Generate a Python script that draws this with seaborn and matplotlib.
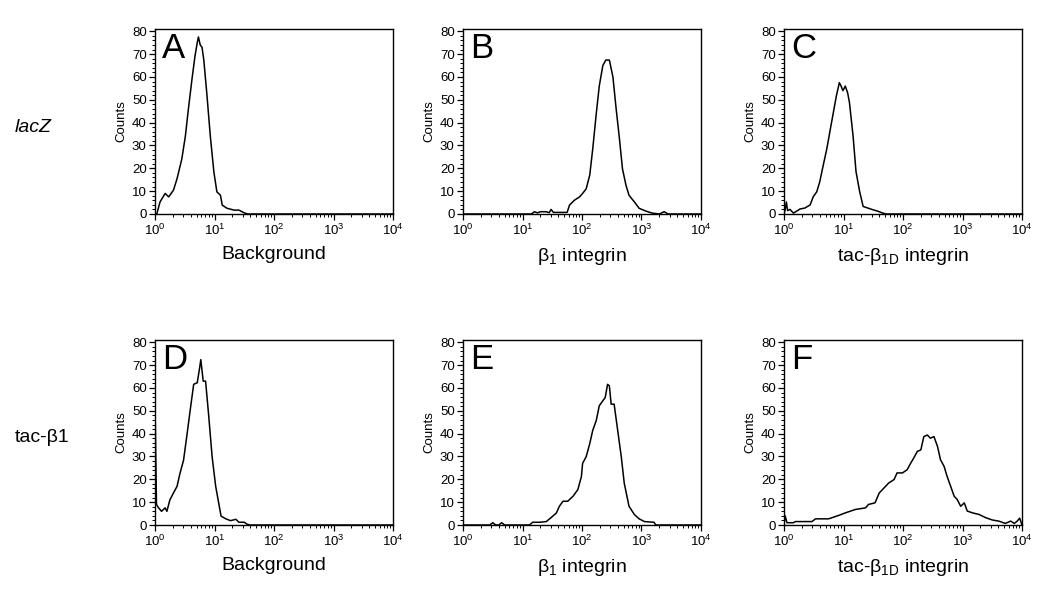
import numpy as np
import pandas as pd
import seaborn as sns
import matplotlib.pyplot as plt
from matplotlib.ticker import MultipleLocator, LogLocator, LogFormatterSciNotation, NullFormatter

# histogram traces: position in decades (log10 of intensity) and counts
a_dec = [0.0, 0.03, 0.085, 0.17, 0.23, 0.31, 0.37, 0.45, 0.51, 0.56, 0.62, 0.67, 0.71, 0.73, 0.76,
         0.79, 0.82, 0.87, 0.93, 0.99, 1.04, 1.10, 1.13, 1.21, 1.33, 1.41, 1.50, 1.56, 4.0]
a_cnt = [0, 0, 5.3, 9, 7.5, 10.4, 15.4, 24, 34, 45.7, 58.7, 68.8, 75, 77.5, 74,
         73, 67.5, 53, 34, 18.3, 9.7, 8.2, 3.9, 2.5, 1.7, 1.7, 0.5, 0, 0]

b_dec = [0.0, 1.15, 1.2, 1.25, 1.3, 1.4, 1.45, 1.48, 1.52, 1.75, 1.79, 1.87, 1.96, 2.01, 2.07, 2.13,
         2.18, 2.24, 2.29, 2.35, 2.40, 2.46, 2.52, 2.57, 2.63, 2.68, 2.74, 2.79, 2.88, 2.96,
         3.07, 3.18, 3.3, 3.38, 3.45, 4.0]
b_cnt = [0, 0, 1, 0.5, 1, 1, 0.6, 2, 0.7, 0.7, 3.9, 6, 7.5, 9, 11, 17,
         28.4, 44, 56, 65, 67.4, 67.4, 60, 47, 32.8, 19.8, 12.5, 8.2, 5.3, 2.5,
         1.3, 0.4, 0, 1, 0, 0]

c_dec = [0.0, 0.02, 0.04, 0.06, 0.10, 0.16, 0.21, 0.27, 0.35, 0.44, 0.49, 0.55, 0.60, 0.66, 0.72,
         0.77, 0.83, 0.88, 0.93, 0.96, 0.99, 1.03, 1.07, 1.10, 1.16, 1.21, 1.27, 1.33, 1.41,
         1.49, 1.58, 1.66, 1.72, 4.0]
c_cnt = [0, 2, 5.3, 1.5, 2, 0.4, 1.2, 2.2, 2.6, 4, 7.5, 9.7, 14, 21.4, 28.6,
         35.9, 44.5, 51.7, 57.5, 56, 54, 56, 53, 48.8, 34.4, 18.6, 10, 3.3, 2.6,
         1.9, 1.2, 0.4, 0, 0]

d_dec = [0.0, 0.012, 0.025, 0.06, 0.11, 0.17, 0.20, 0.25, 0.31, 0.37, 0.42, 0.48, 0.54, 0.59,
         0.65, 0.71, 0.75, 0.77, 0.81, 0.85, 0.90, 0.96, 1.02, 1.07, 1.11, 1.19, 1.27, 1.36,
         1.41, 1.50, 1.55, 1.6, 4.0]
d_cnt = [55, 31, 9, 7.5, 6, 7.5, 6, 11, 14, 16.9, 22.6, 28.4, 40, 50,
         61.6, 62.3, 68.8, 72.4, 63, 63, 48.6, 29.9, 16.9, 9.7, 3.9, 2.7, 1.9, 2.5,
         1.2, 1.2, 0.3, 0, 0]

e_dec = [0.0, 0.45, 0.5, 0.55, 0.6, 0.65, 0.7, 1.12, 1.17, 1.29, 1.40, 1.51, 1.57, 1.62, 1.68,
         1.76, 1.85, 1.93, 1.99, 2.01, 2.07, 2.13, 2.18, 2.24, 2.29, 2.35, 2.39, 2.43, 2.46,
         2.49, 2.54, 2.60, 2.66, 2.71, 2.79, 2.88, 2.96, 3.05, 3.21, 3.24, 4.0]
e_cnt = [0, 0, 1, 0, 0, 1, 0, 0, 1.2, 1.2, 1.5, 3.9, 5.3, 8.2, 10.4,
         10.4, 12.6, 15.5, 21.2, 27, 29.9, 35.6, 41.4, 45.8, 52.2, 54.4, 55.8, 61.6, 60.9,
         52.9, 52.9, 41.4, 29.9, 18.3, 8.2, 4.6, 2.7, 1.5, 1.2, 0, 0]

f_dec = [0.0, 0.02, 0.05, 0.16, 0.19, 0.47, 0.53, 0.64, 0.75, 0.92, 1.03, 1.20, 1.37, 1.42,
         1.53, 1.60, 1.68, 1.76, 1.85, 1.90, 1.99, 2.07, 2.13, 2.18, 2.24, 2.30, 2.35, 2.41,
         2.46, 2.52, 2.58, 2.63, 2.69, 2.74, 2.80, 2.86, 2.91, 2.97, 3.03, 3.08, 3.17, 3.28,
         3.39, 3.50, 3.61, 3.72, 3.81, 3.87, 3.92, 3.96, 4.0]
f_cnt = [0, 4, 1, 1, 1.5, 1.5, 2.7, 2.7, 2.7, 4.2, 5.3, 6.8, 7.5, 9,
         9.7, 14, 16.2, 18.4, 19.9, 22.8, 22.8, 24.2, 27.1, 29.3, 32.2, 32.9, 38.7, 39.4,
         38, 38.7, 34.4, 28.6, 25.7, 21.4, 17, 12.6, 11.2, 8.2, 9.7, 6.1, 5.3, 4.6,
         3.2, 2.2, 1.7, 0.7, 1.7, 0.7, 1.7, 3, 0]

panels = [("A", a_dec, a_cnt, "Background"),
          ("B", b_dec, b_cnt, "β$_1$ integrin"),
          ("C", c_dec, c_cnt, "tac-β$_{1D}$ integrin"),
          ("D", d_dec, d_cnt, "Background"),
          ("E", e_dec, e_cnt, "β$_1$ integrin"),
          ("F", f_dec, f_cnt, "tac-β$_{1D}$ integrin")]
row_labels = ["lacZ", "tac-β1"]

sns.set_style("ticks")
plt.rcParams['font.family'] = ['Liberation Sans', 'DejaVu Sans']
plt.rcParams['mathtext.fontset'] = 'custom'
plt.rcParams['mathtext.rm'] = 'Liberation Sans'
plt.rcParams['mathtext.it'] = 'Liberation Sans:italic'
plt.rcParams['mathtext.default'] = 'regular'
for k in ['text.color', 'axes.labelcolor', 'xtick.color', 'ytick.color', 'axes.edgecolor']:
    plt.rcParams[k] = 'black'

fig = plt.figure(figsize=(10.5, 6.04), dpi=100)

lefts = [155 / 1050, 463 / 1050, 784 / 1050]
bottoms = [1 - 214 / 604, 1 - 525 / 604]
w, h = 238 / 1050, 185 / 604

for i, (letter, dec, cnt, xlab) in enumerate(panels):
    row, col = divmod(i, 3)
    ax = fig.add_axes([lefts[col], bottoms[row], w, h])
    df = pd.DataFrame({"x": 10 ** np.array(dec), "y": cnt})
    sns.lineplot(data=df, x="x", y="y", ax=ax, color="black", lw=1.1,
                 estimator=None, sort=False)
    ax.set_xscale("log")
    ax.set_xlim(1, 1e4)
    ax.set_ylim(0, 81)
    ax.xaxis.set_major_locator(LogLocator(base=10, numticks=10))
    ax.xaxis.set_minor_locator(LogLocator(base=10, subs=np.arange(2, 10), numticks=10))
    ax.xaxis.set_major_formatter(LogFormatterSciNotation())
    ax.xaxis.set_minor_formatter(NullFormatter())
    ax.yaxis.set_major_locator(MultipleLocator(10))
    ax.yaxis.set_minor_locator(MultipleLocator(2))
    ax.tick_params(which="major", direction="out", length=4, width=0.9,
                   labelsize=9.5, pad=2)
    ax.tick_params(which="minor", direction="out", length=2, width=0.7)
    for s in ax.spines.values():
        s.set_visible(True)
        s.set_linewidth(1.0)
    ax.set_xlabel(xlab, fontsize=14, labelpad=6)
    ax.set_ylabel("Counts", fontsize=9.5, labelpad=3)
    ax.text(0.03, 0.985, letter, transform=ax.transAxes, ha="left", va="top", fontsize=25)

fig.text(0.014, 1 - 127 / 604, row_labels[0], fontsize=14, style="italic", va="center", ha="left")
fig.text(0.014, 1 - 437 / 604, row_labels[1], fontsize=14, va="center", ha="left")

fig.savefig("out.png", dpi=100)
